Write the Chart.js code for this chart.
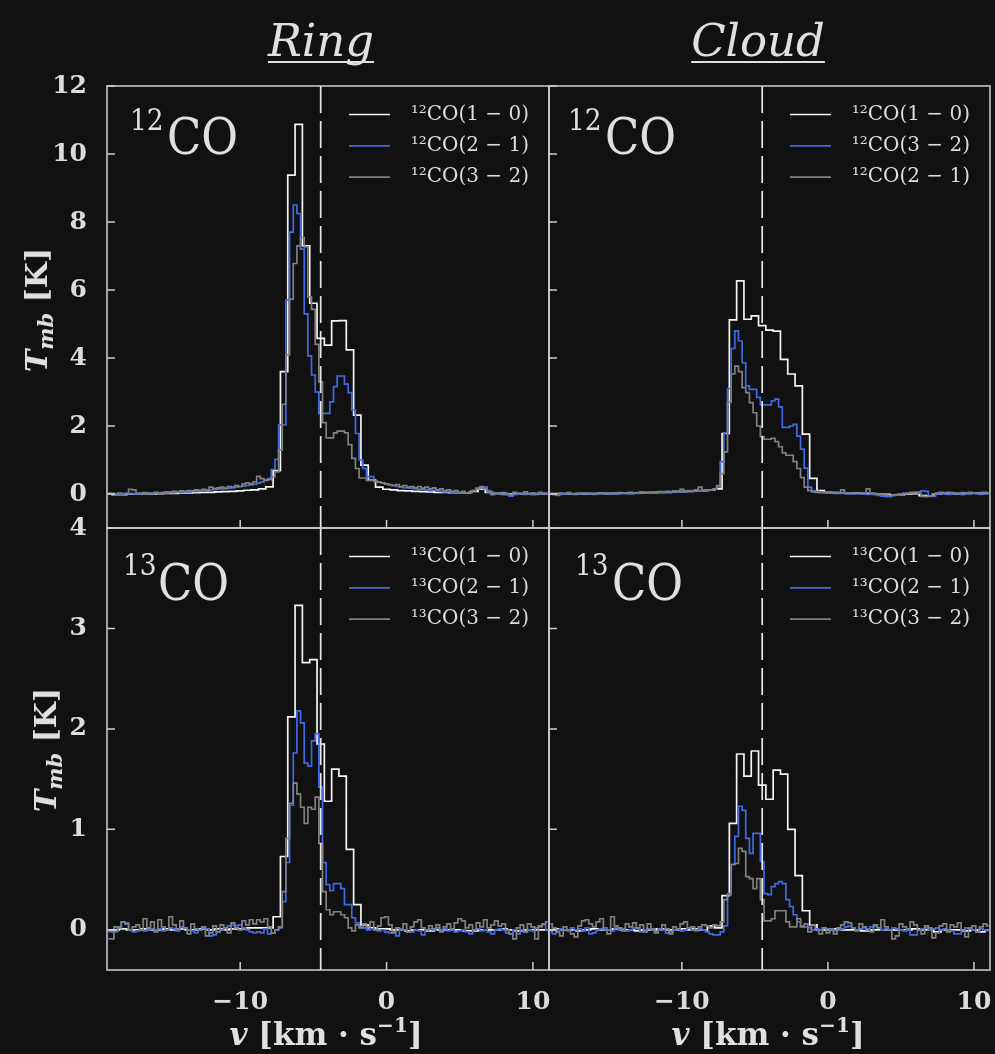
<!DOCTYPE html>
<html>
<head>
<meta charset="utf-8">
<script src="https://cdn.jsdelivr.net/npm/chart.js@4.4.1/dist/chart.umd.min.js"></script>
<style>
html,body{margin:0;padding:0;background:#111111;}
#fig{position:relative;width:995px;height:1054px;overflow:hidden;background:#111111;color:#e0e0e0;font-family:'DejaVu Serif',serif;}
canvas{position:absolute;}
.title{position:absolute;top:18px;font-style:italic;font-size:45px;line-height:45px;transform:translateX(-50%);text-decoration:underline;text-decoration-thickness:2px;text-underline-offset:5px;text-decoration-skip-ink:none;white-space:nowrap;}
.sup{position:absolute;font-size:30px;line-height:30px;transform-origin:0 0;transform:scaleX(0.88);white-space:nowrap;}
.big{position:absolute;font-size:51px;line-height:51px;transform-origin:0 0;transform:scaleX(0.88);white-space:nowrap;}
.ylab{position:absolute;font-weight:bold;font-size:30px;line-height:30px;white-space:nowrap;transform:translate(-50%,-50%) rotate(-90deg);}
.xlab{position:absolute;font-weight:bold;font-size:31px;line-height:31px;white-space:nowrap;transform:translate(-50%,-50%);}
.ylab sub{font-size:0.7em;vertical-align:-0.3em;line-height:0;}
.xlab sup{font-size:0.65em;vertical-align:0.6em;line-height:0;}
</style>
</head>
<body>
<div id="fig">
  <canvas id="cTL" width="552" height="540" style="left:0px;top:0px;width:552px;height:540px"></canvas>
  <canvas id="cTR" width="455" height="540" style="left:540px;top:0px;width:455px;height:540px"></canvas>
  <canvas id="cBL" width="552" height="544" style="left:0px;top:510px;width:552px;height:544px"></canvas>
  <canvas id="cBR" width="455" height="544" style="left:540px;top:510px;width:455px;height:544px"></canvas>

  <div class="title" style="left:321px">Ring</div>
  <div class="title" style="left:758px">Cloud</div>

  <span class="sup" style="left:130px;top:104.6px">12</span><span class="big" style="left:167px;top:110.9px">CO</span>
  <span class="sup" style="left:568px;top:104.6px">12</span><span class="big" style="left:605px;top:110.9px">CO</span>
  <span class="sup" style="left:123px;top:549.6px">13</span><span class="big" style="left:158px;top:556.9px">CO</span>
  <span class="sup" style="left:575px;top:549.6px">13</span><span class="big" style="left:612px;top:556.9px">CO</span>

  <div class="ylab" style="left:37px;top:310px"><i>T</i><sub><i>mb</i></sub> [K]</div>
  <div class="ylab" style="left:46px;top:750px"><i>T</i><sub><i>mb</i></sub> [K]</div>
  <div class="xlab" style="left:326px;top:1034px"><i>v</i> [km · s<sup>−1</sup>]</div>
  <div class="xlab" style="left:768px;top:1034px"><i>v</i> [km · s<sup>−1</sup>]</div>
</div>
<script>
// ---------------- channel axes (km/s) ----------------
const vCoarse = [
  -19,-18.5,-18,-17.5, -17,-16.5,-16,-15.5, -15,-14.5,-14,-13.5, -13,-12.5,-12,-11.5,
  -11,-10.5,-10,-9.5, -9,-8.5,-8,-7.5, -7,-6.5,-6,-5.5, -5,-4.5,-4,-3.5,
  -3,-2.5,-2,-1.5, -1,-0.5,0,0.5, 1,1.5,2,2.5, 3,3.5,4,4.5,
  5,5.5,6,6.5, 7,7.5,8,8.5, 9,9.5,10,10.5, 11
];
const vFine = [
  -19,-18.75,-18.5,-18.25,-18,-17.75,-17.5,-17.25,
  -17,-16.75,-16.5,-16.25,-16,-15.75,-15.5,-15.25,
  -15,-14.75,-14.5,-14.25,-14,-13.75,-13.5,-13.25,
  -13,-12.75,-12.5,-12.25,-12,-11.75,-11.5,-11.25,
  -11,-10.75,-10.5,-10.25,-10,-9.75,-9.5,-9.25,
  -9,-8.75,-8.5,-8.25,-8,-7.75,-7.5,-7.25,
  -7,-6.75,-6.5,-6.25,-6,-5.75,-5.5,-5.25,
  -5,-4.75,-4.5,-4.25,-4,-3.75,-3.5,-3.25,
  -3,-2.75,-2.5,-2.25,-2,-1.75,-1.5,-1.25,
  -1,-0.75,-0.5,-0.25,0,0.25,0.5,0.75,
  1,1.25,1.5,1.75,2,2.25,2.5,2.75,
  3,3.25,3.5,3.75,4,4.25,4.5,4.75,
  5,5.25,5.5,5.75,6,6.25,6.5,6.75,
  7,7.25,7.5,7.75,8,8.25,8.5,8.75,
  9,9.25,9.5,9.75,10,10.25,10.5,10.75,
  11
];

// ---------------- Ring, 12CO (K) ----------------
const ringCO12_10 = [
  0.00,-0.02,-0.02,0.00, 0.00,0.01,0.00,0.01, 0.02,0.02,0.03,0.03, 0.04,0.05,0.05,0.06,
  0.07,0.08,0.09,0.11, 0.12,0.15,0.21,0.69, 3.60,9.38,10.87,7.30, 5.61,4.58,4.38,5.09,
  5.10,4.24,2.32,0.85, 0.41,0.20,0.14,0.12, 0.10,0.09,0.08,0.07, 0.06,0.05,0.05,0.04,
  0.03,0.03,0.08,0.14, 0.05,0.02,0.01,0.00, 0.01,0.00,0.01,0.00, 0.00
];
const ringCO12_21 = [
  0.02,0.00,-0.02,-0.03,-0.01,0.01,0.02,0.01,
  0.00,0.02,0.03,0.02,0.01,0.03,0.02,0.04,
  0.03,0.05,0.04,0.06,0.05,0.07,0.06,0.08,
  0.08,0.10,0.09,0.11,0.12,0.13,0.14,0.15,
  0.16,0.17,0.18,0.20,0.22,0.23,0.25,0.27,
  0.29,0.32,0.35,0.41,0.45,0.72,1.02,2.03,
  2.03,5.70,7.70,8.50,8.25,7.20,5.30,4.06,
  3.50,3.00,2.37,2.37,2.37,2.71,3.16,3.47,
  3.47,3.23,2.98,2.47,1.78,1.00,0.75,0.51,
  0.51,0.36,0.36,0.33,0.30,0.27,0.25,0.22,
  0.20,0.19,0.18,0.17,0.16,0.14,0.13,0.12,
  0.10,0.11,0.09,0.08,0.06,0.07,0.05,0.04,
  0.03,0.04,0.03,0.05,0.10,0.18,0.22,0.20,
  0.10,0.04,0.02,0.00,-0.02,-0.03,-0.06,-0.02,
  0.00,0.01,-0.01,0.00,-0.02,0.01,0.00,0.02,
  0.00
];
const ringCO12_32 = [
  0.03,0.02,0.00,0.03,0.01,0.02,0.14,0.12,
  0.03,0.01,0.04,0.02,0.03,0.05,0.02,0.04,
  0.06,0.05,0.08,0.06,0.09,0.07,0.10,0.09,
  0.12,0.10,0.14,0.12,0.20,0.16,0.18,0.20,
  0.17,0.22,0.20,0.25,0.22,0.30,0.33,0.30,
  0.36,0.52,0.45,0.40,0.42,0.50,0.65,1.30,
  2.64,4.09,5.73,6.78,7.30,7.54,7.27,5.80,
  5.43,4.40,3.30,2.10,1.65,1.65,1.80,1.85,
  1.85,1.80,1.45,1.05,0.75,0.47,0.47,0.40,
  0.40,0.38,0.35,0.33,0.30,0.28,0.25,0.28,
  0.22,0.25,0.20,0.22,0.18,0.22,0.17,0.20,
  0.15,0.18,0.12,0.15,0.10,0.12,0.08,0.10,
  0.05,0.08,0.03,0.06,0.10,0.15,0.20,0.15,
  0.05,-0.02,0.03,0.00,0.04,0.01,-0.03,0.05,
  0.02,0.00,0.06,0.01,0.03,-0.01,0.05,0.02,
  0.03
];

// ---------------- Cloud, 12CO (K) ----------------
const cloudCO12_10 = [
  0.00,0.01,0.00,0.00, 0.01,0.00,0.01,0.02, 0.01,0.02,0.03,0.02, 0.03,0.04,0.04,0.05,
  0.05,0.06,0.07,0.08, 0.09,0.10,0.12,0.15, 1.78,5.12,6.27,5.14, 5.24,4.95,4.82,4.79,
  3.96,3.53,3.18,1.76, 0.46,0.10,0.05,0.04, 0.03,0.02,0.03,0.02, 0.01,0.00,-0.01,-0.03,
  -0.02,0.00,0.01,-0.05, -0.06,0.00,0.02,0.01, 0.00,0.02,0.03,0.02, 0.02
];
const cloudCO12_32 = [
  0.01,-0.02,-0.04,-0.01,0.00,0.01,0.00,-0.01,
  0.00,0.02,0.01,0.00,-0.01,0.00,0.01,0.02,
  0.01,0.00,0.02,0.01,0.03,0.02,0.01,0.03,
  0.02,0.04,0.03,0.04,0.03,0.05,0.04,0.05,
  0.06,0.05,0.07,0.06,0.08,0.07,0.09,0.08,
  0.10,0.09,0.11,0.10,0.12,0.15,0.20,0.95,
  1.80,3.10,4.28,4.80,4.50,3.86,3.18,3.08,
  3.08,2.84,2.62,2.62,2.62,2.74,2.79,2.56,
  1.96,1.96,2.00,2.05,1.70,1.32,0.76,0.20,
  0.10,0.08,0.06,0.05,0.04,0.03,0.05,0.02,
  0.03,0.01,0.02,0.00,0.01,0.02,0.00,-0.01,
  0.00,-0.02,-0.04,-0.06,-0.08,-0.08,-0.05,-0.03,
  0.00,0.02,0.03,0.04,0.05,0.06,0.09,0.08,
  -0.06,-0.07,0.00,0.01,0.00,-0.01,0.01,0.02,
  0.00,-0.02,0.01,0.00,0.02,0.01,-0.01,0.00,
  0.01
];
const cloudCO12_21 = [
  0.02,0.00,-0.01,0.03,0.02,0.04,0.01,0.00,
  0.02,0.01,0.03,0.02,0.00,0.02,0.03,0.01,
  0.02,0.03,0.01,0.04,0.02,0.03,0.05,0.03,
  0.04,0.06,0.04,0.05,0.06,0.05,0.07,0.06,
  0.08,0.07,0.09,0.08,0.14,0.08,0.10,0.09,
  0.12,0.20,0.10,0.12,0.12,0.15,0.25,0.60,
  1.24,2.70,3.53,3.76,3.60,3.13,2.98,2.69,
  2.39,2.00,1.69,1.61,1.61,1.64,1.54,1.39,
  1.21,1.14,1.14,0.95,0.75,0.48,0.20,0.10,
  0.06,0.05,0.04,0.05,0.03,0.04,0.02,0.03,
  0.12,0.03,0.02,0.03,0.02,0.01,0.03,0.15,
  0.02,0.01,0.00,-0.01,-0.03,-0.04,-0.03,-0.02,
  0.00,0.01,0.03,0.04,0.05,0.02,-0.07,-0.08,
  -0.06,0.00,0.03,0.05,0.03,0.05,0.04,0.02,
  0.03,0.04,0.02,0.05,0.03,0.02,0.04,0.05,
  0.03
];

// ---------------- Ring, 13CO (K) ----------------
const ringCO13_10 = [
  0.00,0.00,0.01,0.00, 0.00,0.01,0.00,0.00, 0.01,0.00,0.01,0.00, 0.00,0.01,0.00,0.01,
  0.00,0.01,0.01,0.02, 0.02,0.02,0.02,0.13, 0.73,2.12,3.23,2.66, 2.69,1.85,1.28,1.60,
  1.53,0.80,0.25,0.05, 0.02,0.01,0.01,0.00, 0.00,-0.01,0.00,0.00, -0.01,0.00,0.00,0.00,
  0.00,-0.01,-0.01,0.00, 0.00,0.00,0.01,0.00, -0.01,0.00,0.00,0.00, 0.00
];
const ringCO13_21 = [
  -0.02,-0.02,-0.02,0.03,0.08,0.07,0.00,-0.02,
  -0.01,0.00,-0.01,0.00,0.01,0.00,0.01,-0.01,
  0.00,0.02,0.01,-0.01,0.03,0.02,0.00,-0.01,
  -0.03,0.00,0.02,0.01,-0.06,-0.05,-0.02,0.00,
  0.02,0.04,0.05,0.04,0.05,0.02,0.00,-0.02,
  -0.03,-0.02,-0.03,0.01,-0.04,-0.03,0.00,0.02,
  0.28,0.67,1.24,1.76,2.18,2.06,1.66,1.63,
  1.88,1.95,1.42,0.67,0.45,0.39,0.46,0.46,
  0.41,0.25,0.25,0.12,0.07,0.03,0.02,0.00,
  0.01,0.00,-0.01,0.00,-0.02,-0.03,-0.02,-0.06,
  0.01,0.00,-0.02,-0.02,0.00,-0.01,-0.05,0.00,
  0.01,0.00,0.02,0.00,0.01,-0.01,0.00,-0.02,
  -0.01,0.00,-0.02,-0.04,0.00,0.01,-0.01,0.00,
  -0.02,-0.04,0.00,0.01,0.00,-0.03,-0.04,0.00,
  -0.04,0.00,-0.02,0.00,-0.01,0.02,0.03,0.05,
  0.00
];
const ringCO13_32 = [
  -0.09,-0.09,0.03,0.02,0.08,0.06,0.00,0.03,
  0.05,0.00,0.11,0.02,0.08,-0.02,0.10,0.03,
  0.00,0.13,0.05,0.01,0.09,0.02,-0.04,0.06,
  0.01,0.00,0.03,-0.06,-0.03,0.04,-0.02,0.05,
  0.02,-0.03,0.07,0.02,0.00,0.09,0.05,0.10,
  0.06,0.10,0.08,0.11,0.03,-0.03,0.00,0.03,
  0.38,0.91,1.26,1.46,1.35,1.22,1.06,1.22,
  1.20,1.32,0.86,0.38,0.20,0.15,0.18,0.18,
  0.15,0.12,0.02,-0.01,0.05,0.02,0.06,0.03,
  0.08,0.00,0.04,0.12,0.13,0.05,-0.03,0.02,
  0.00,0.06,-0.02,0.03,0.08,0.10,0.02,0.00,
  0.04,0.01,0.05,-0.02,0.03,0.06,0.01,0.07,
  0.11,0.09,0.02,0.05,0.00,0.07,0.03,0.10,
  0.02,0.05,0.09,0.04,0.06,0.00,-0.04,-0.09,
  0.02,0.05,-0.02,0.06,0.03,-0.09,0.04,0.06,
  0.08
];

// ---------------- Cloud, 13CO (K) ----------------
const cloudCO13_10 = [
  0.00,0.01,0.00,0.00, -0.01,0.00,0.01,0.00, 0.00,0.01,0.00,0.00, -0.01,0.00,0.00,0.01,
  0.00,0.00,0.01,0.00, 0.01,0.00,0.04,0.02, 0.34,1.06,1.75,1.53, 1.78,1.44,1.30,1.59,
  1.55,1.00,0.54,0.19, 0.05,0.00,0.00,0.01, 0.00,0.00,0.00,-0.01, 0.00,0.00,0.00,0.00,
  0.00,0.00,0.01,0.00, 0.00,-0.02,0.00,0.00, 0.00,-0.01,0.00,-0.02, 0.00
];
const cloudCO13_21 = [
  -0.02,-0.04,0.00,0.01,0.00,-0.01,0.02,0.00,
  0.01,-0.01,0.02,-0.04,-0.03,0.00,0.01,0.02,
  0.00,-0.01,0.02,0.00,0.01,-0.01,0.00,0.02,
  0.01,-0.02,0.00,0.01,0.00,-0.02,0.01,0.00,
  -0.03,-0.02,0.00,0.01,-0.01,0.00,0.02,0.00,
  -0.01,0.01,0.00,-0.02,-0.04,-0.05,-0.05,-0.02,
  0.04,0.36,0.65,0.93,1.23,1.19,0.91,0.76,
  0.96,0.96,0.68,0.36,0.35,0.43,0.46,0.48,
  0.46,0.30,0.23,0.15,0.08,0.04,0.03,0.02,
  0.00,0.01,0.00,0.02,0.01,0.00,-0.01,0.00,
  0.01,0.03,0.04,0.02,0.00,0.01,0.02,0.01,
  0.03,0.04,0.02,0.00,0.01,0.00,0.02,0.01,
  0.00,-0.01,0.00,-0.05,-0.05,0.00,0.01,0.02,
  0.00,0.01,0.02,0.00,0.01,0.00,-0.01,-0.04,
  -0.04,0.00,0.02,0.01,0.00,-0.02,0.01,0.00,
  -0.01
];
const cloudCO13_32 = [
  0.06,0.02,-0.02,-0.06,0.03,0.00,-0.04,-0.07,
  0.04,0.09,0.10,0.06,0.03,0.08,0.11,0.00,
  -0.04,0.13,0.04,0.02,-0.01,0.06,0.03,0.07,
  0.02,0.05,-0.02,0.06,0.01,-0.03,0.00,0.05,
  0.01,-0.04,0.03,0.01,0.06,0.08,0.02,0.03,
  0.00,0.03,0.05,0.04,0.02,0.05,0.04,0.08,
  0.30,0.35,0.65,0.66,0.81,0.78,0.53,0.51,
  0.41,0.51,0.30,0.09,0.09,0.11,0.19,0.19,
  0.19,0.08,0.03,0.03,0.11,0.03,0.06,-0.02,
  0.05,0.00,-0.04,0.02,-0.03,0.01,-0.04,0.02,
  0.05,0.08,0.07,0.02,-0.01,0.06,0.03,0.00,
  -0.02,0.05,0.02,0.10,0.03,0.00,-0.09,-0.06,
  0.06,0.03,0.01,0.08,0.05,0.00,-0.04,0.04,
  0.02,-0.08,-0.03,0.04,0.06,-0.02,0.05,0.03,
  0.07,0.00,-0.07,0.02,0.04,-0.02,0.03,0.06,
  0.04
];

// ---------------- axis limits, ticks, labels ----------------
const X_LIMITS = [-19.1, 11.1];
const X_TICK_STEP = 10;
const Y_LIMITS_12 = [-1, 12];
const Y_TICK_STEP_12 = 2;
const Y_LIMITS_13 = [-0.4, 4];
const Y_TICK_STEP_13 = 1;
const V_SYS = -4.5;
const LEG_RING_12 = ['\u00b9\u00b2CO(1 \u2212 0)', '\u00b9\u00b2CO(2 \u2212 1)', '\u00b9\u00b2CO(3 \u2212 2)'];
const LEG_CLOUD_12 = ['\u00b9\u00b2CO(1 \u2212 0)', '\u00b9\u00b2CO(3 \u2212 2)', '\u00b9\u00b2CO(2 \u2212 1)'];
const LEG_13 = ['\u00b9\u00b3CO(1 \u2212 0)', '\u00b9\u00b3CO(2 \u2212 1)', '\u00b9\u00b3CO(3 \u2212 2)'];

// ---------------- styles ----------------
const C_WHITE = '#f4f4f4', C_BLUE = '#4169e1', C_GRAY = '#808080', C_DASH = '#e8e8e8';
const C_FRAME = '#cfcfcf', C_TEXT = '#dcdcdc';
const FONT = 'DejaVu Serif';
const LEG_FONT_SIZE = 20, LEG_PAD = 11.3;
const TICK_FONT = {family: FONT, size: 25, weight: 'bold'};

Chart.defaults.font.family = FONT;

const toPoints = (xs, ys) => xs.map((x, i) => ({x: x, y: ys[i]}));

const legendPlace = {
  id: 'legendPlace',
  afterLayout(chart) {
    const lg = chart.legend, ca = chart.chartArea;
    if (!lg) return;
    lg.left = ca.right - 200 - LEG_PAD;
    lg.right = ca.right - 20;
    lg.width = lg.right - lg.left;
    lg.top = ca.top + 28.5 - LEG_PAD - LEG_FONT_SIZE / 2;
    lg.bottom = ca.bottom;
    lg.height = lg.bottom - lg.top;
  }
};

const frameTicks = {
  id: 'frameTicks',
  afterDatasetsDraw(chart) {
    const {ctx, chartArea: a} = chart;
    const sx = chart.scales.x, sy = chart.scales.y;
    ctx.save();
    ctx.strokeStyle = C_FRAME;
    ctx.lineWidth = 1.5;
    ctx.strokeRect(a.left, a.top, a.right - a.left, a.bottom - a.top);
    ctx.beginPath();
    sx.ticks.forEach(t => {
      const px = sx.getPixelForValue(t.value);
      ctx.moveTo(px, a.bottom); ctx.lineTo(px, a.bottom - 8);
    });
    sy.ticks.forEach(t => {
      const py = sy.getPixelForValue(t.value);
      ctx.moveTo(a.left, py); ctx.lineTo(a.left + 8, py);
    });
    ctx.stroke();
    ctx.restore();
  }
};

const fmtTick = v => (v < 0 ? '\u2212' + Math.abs(v) : String(v));

function panel(id, series, labels, yLim, yStep, showX, showY, geom) {
  const line = {borderWidth: 1.7, pointRadius: 0, pointHoverRadius: 0, pointBorderWidth: 1.7, stepped: 'middle', fill: false};
  return new Chart(document.getElementById(id), {
    type: 'line',
    data: {
      datasets: [
        Object.assign({label: labels[0], data: toPoints(vCoarse, series[0]), borderColor: C_WHITE, order: 3}, line),
        Object.assign({label: labels[1], data: toPoints(vFine, series[1]), borderColor: C_BLUE, order: 2}, line),
        Object.assign({label: labels[2], data: toPoints(vFine, series[2]), borderColor: C_GRAY, order: 1}, line),
        {label: 'vsys', data: [{x: V_SYS, y: yLim[1]}, {x: V_SYS, y: yLim[0]}], borderColor: C_DASH,
         borderWidth: 1.7, borderDash: [27, 8], pointRadius: 0, pointHoverRadius: 0, order: 0, fill: false}
      ]
    },
    options: {
      responsive: false,
      animation: false,
      devicePixelRatio: 1,
      events: [],
      layout: {padding: geom.pad},
      plugins: {
        tooltip: {enabled: false},
        title: {display: false},
        legend: {
          display: true,
          position: 'chartArea',
          align: 'start',
          labels: {
            color: C_TEXT,
            font: {family: FONT, size: LEG_FONT_SIZE},
            usePointStyle: true,
            pointStyle: 'line',
            pointStyleWidth: 41,
            padding: LEG_PAD,
            textAlign: 'right',
            filter: item => item.datasetIndex < 3,
            sort: (a, b) => a.datasetIndex - b.datasetIndex
          }
        }
      },
      scales: {
        x: {
          type: 'linear', position: 'bottom',
          min: X_LIMITS[0], max: X_LIMITS[1],
          grid: {display: false}, border: {display: false},
          ticks: {display: showX, stepSize: X_TICK_STEP, includeBounds: false, autoSkip: false,
                  maxRotation: 0, padding: 9, color: C_TEXT, font: TICK_FONT, callback: fmtTick},
          afterFit: s => { s.height = geom.xH; s.paddingLeft = 0; s.paddingRight = 0; }
        },
        y: {
          type: 'linear', position: 'left',
          min: yLim[0], max: yLim[1],
          grid: {display: false}, border: {display: false},
          ticks: {display: showY, stepSize: yStep, includeBounds: false, autoSkip: false,
                  padding: 12, color: C_TEXT, font: TICK_FONT, callback: fmtTick},
          afterFit: s => { s.width = geom.yW; s.paddingTop = 0; s.paddingBottom = 0; }
        }
      }
    },
    plugins: [legendPlace, frameTicks]
  });
}

panel('cTL', [ringCO12_10, ringCO12_21, ringCO12_32], LEG_RING_12, Y_LIMITS_12, Y_TICK_STEP_12, false, true,
      {pad: {top: 86, right: 3, bottom: 0, left: 0}, yW: 107, xH: 12});
panel('cTR', [cloudCO12_10, cloudCO12_32, cloudCO12_21], LEG_CLOUD_12, Y_LIMITS_12, Y_TICK_STEP_12, false, false,
      {pad: {top: 86, right: 5, bottom: 0, left: 0}, yW: 9, xH: 12});
panel('cBL', [ringCO13_10, ringCO13_21, ringCO13_32], LEG_13, Y_LIMITS_13, Y_TICK_STEP_13, true, true,
      {pad: {top: 18, right: 3, bottom: 0, left: 0}, yW: 107, xH: 84});
panel('cBR', [cloudCO13_10, cloudCO13_21, cloudCO13_32], LEG_13, Y_LIMITS_13, Y_TICK_STEP_13, true, false,
      {pad: {top: 18, right: 5, bottom: 0, left: 0}, yW: 9, xH: 84});
</script>
</body>
</html>
